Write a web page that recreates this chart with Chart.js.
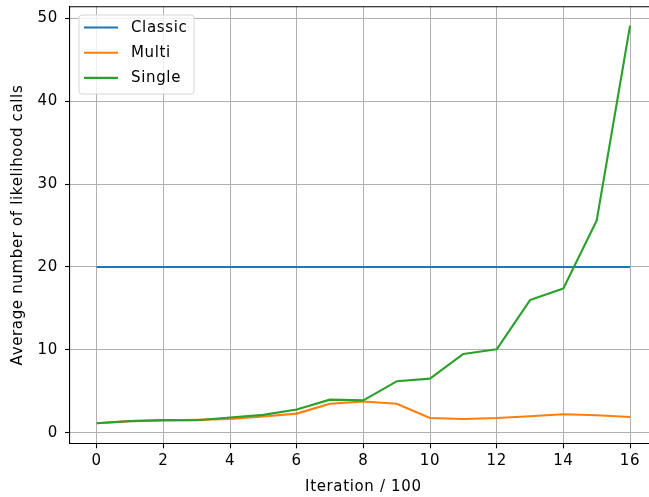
<!DOCTYPE html>
<html>
<head>
<meta charset="utf-8">
<script src="https://cdn.jsdelivr.net/npm/chart.js@4/dist/chart.umd.min.js"></script>
<style>
  html, body { margin: 0; padding: 0; background: #fff; overflow: hidden; }
  #wrap { width: 670px; height: 497px; }
</style>
</head>
<body>
<div id="wrap"><canvas id="c" width="670" height="497"></canvas></div>
<script>
// Iterations (in hundreds)
const iterations = [0, 1, 2, 3, 4, 5, 6, 7, 8, 9, 10, 11, 12, 13, 14, 15, 16];
// Average number of likelihood calls per sampler
const classicCalls = [20, 20, 20, 20, 20, 20, 20, 20, 20, 20, 20, 20, 20, 20, 20, 20, 20];
const multiCalls = [1.13, 1.4, 1.47, 1.55, 1.65, 1.95, 2.3, 3.5, 3.76, 3.5, 1.78, 1.65, 1.77, 1.98, 2.22, 2.1, 1.9];
const singleCalls = [1.13, 1.4, 1.52, 1.5, 1.84, 2.15, 2.8, 3.99, 3.9, 6.2, 6.52, 9.5, 10.06, 16.0, 17.4, 25.6, 49.1];
const seriesNames = ['Classic', 'Multi', 'Single'];
// Axis ticks
const xTicks = [0, 2, 4, 6, 8, 10, 12, 14, 16];
const yTicks = [0, 10, 20, 30, 40, 50];

const FONT = "'DejaVu Sans', sans-serif";
const FONT_SIZE = 15;
const LETTER_SPACING = '0.65px';
const toPoints = arr => arr.map((v, i) => ({ x: iterations[i], y: v }));

// Slightly wider text tracking for all labels
const textPlugin = {
  id: 'tracking',
  beforeDraw(chart) {
    if ('letterSpacing' in chart.ctx) chart.ctx.letterSpacing = LETTER_SPACING;
  }
};

// Axes frame (top/right spines) and in-axes legend box
const framePlugin = {
  id: 'frame',
  afterDraw(chart) {
    const { ctx, chartArea: a } = chart;
    ctx.save();
    ctx.strokeStyle = '#000';
    ctx.lineWidth = 1.1;
    ctx.beginPath();
    ctx.moveTo(a.left, a.top);
    ctx.lineTo(a.right, a.top);
    ctx.lineTo(a.right, a.bottom);
    ctx.stroke();

    // legend
    const bx = 79, by = 15, bw = 115, bh = 79, r = 3;
    ctx.beginPath();
    ctx.moveTo(bx + r, by);
    ctx.arcTo(bx + bw, by, bx + bw, by + bh, r);
    ctx.arcTo(bx + bw, by + bh, bx, by + bh, r);
    ctx.arcTo(bx, by + bh, bx, by, r);
    ctx.arcTo(bx, by, bx + bw, by, r);
    ctx.closePath();
    ctx.fillStyle = 'rgba(255,255,255,0.8)';
    ctx.fill();
    ctx.strokeStyle = '#d6d6d6';
    ctx.lineWidth = 1;
    ctx.stroke();

    ctx.font = FONT_SIZE + 'px ' + FONT;
    ctx.textBaseline = 'middle';
    ctx.textAlign = 'left';
    chart.data.datasets.forEach((ds, i) => {
      const yy = 27.5 + i * 25.2;
      ctx.strokeStyle = ds.borderColor;
      ctx.lineWidth = 2.1;
      ctx.beginPath();
      ctx.moveTo(84, yy);
      ctx.lineTo(118, yy);
      ctx.stroke();
      ctx.fillStyle = '#000';
      ctx.fillText(ds.label, 131, yy + 0.5);
    });
    ctx.restore();
  }
};

new Chart(document.getElementById('c'), {
  type: 'line',
  data: {
    datasets: [
      { label: seriesNames[0], data: toPoints(classicCalls), borderColor: '#1f77b4', order: 2 },
      { label: seriesNames[1], data: toPoints(multiCalls), borderColor: '#ff7f0e', order: 1 },
      { label: seriesNames[2], data: toPoints(singleCalls), borderColor: '#2ca02c', order: 0 }
    ].map(d => Object.assign(d, {
      borderWidth: 2.1, pointRadius: 0, tension: 0, fill: false,
      backgroundColor: d.borderColor, borderJoinStyle: 'round', borderCapStyle: 'butt'
    }))
  },
  options: {
    responsive: false,
    animation: false,
    devicePixelRatio: 1,
    layout: { padding: { left: 0, top: 6.7, right: 13.3, bottom: 0 } },
    plugins: { legend: { display: false }, tooltip: { enabled: false } },
    scales: {
      x: {
        type: 'linear',
        min: -0.8,
        max: 16.8,
        afterBuildTicks: s => { s.ticks = xTicks.map(v => ({ value: v })); },
        afterFit: s => { s.height = 53.7; s.paddingLeft = 0; s.paddingRight = 0; },
        ticks: { color: '#000', font: { family: FONT, size: FONT_SIZE }, padding: 4, maxRotation: 0, autoSkip: false },
        grid: { color: '#b0b0b0', lineWidth: 1, tickColor: '#000', tickLength: 5, tickWidth: 1.1, drawOnChartArea: true },
        border: { color: '#000', width: 1.1 },
        title: { display: true, text: 'Iteration / 100', color: '#000', font: { family: FONT, size: FONT_SIZE }, padding: { top: 0, bottom: 1 } }
      },
      y: {
        type: 'linear',
        min: -1.28,
        max: 51.4,
        afterBuildTicks: s => { s.ticks = yTicks.map(v => ({ value: v })); },
        afterFit: s => { s.width = 70; s.paddingTop = 0; s.paddingBottom = 0; },
        ticks: { color: '#000', font: { family: FONT, size: FONT_SIZE }, padding: 7 },
        grid: { color: '#b0b0b0', lineWidth: 1, tickColor: '#000', tickLength: 5, tickWidth: 1.1 },
        border: { color: '#000', width: 1.1 },
        title: { display: true, text: 'Average number of likelihood calls', color: '#000', font: { family: FONT, size: FONT_SIZE }, padding: { top: 8.7, bottom: 0 } }
      }
    }
  },
  plugins: [textPlugin, framePlugin]
});
</script>
</body>
</html>
